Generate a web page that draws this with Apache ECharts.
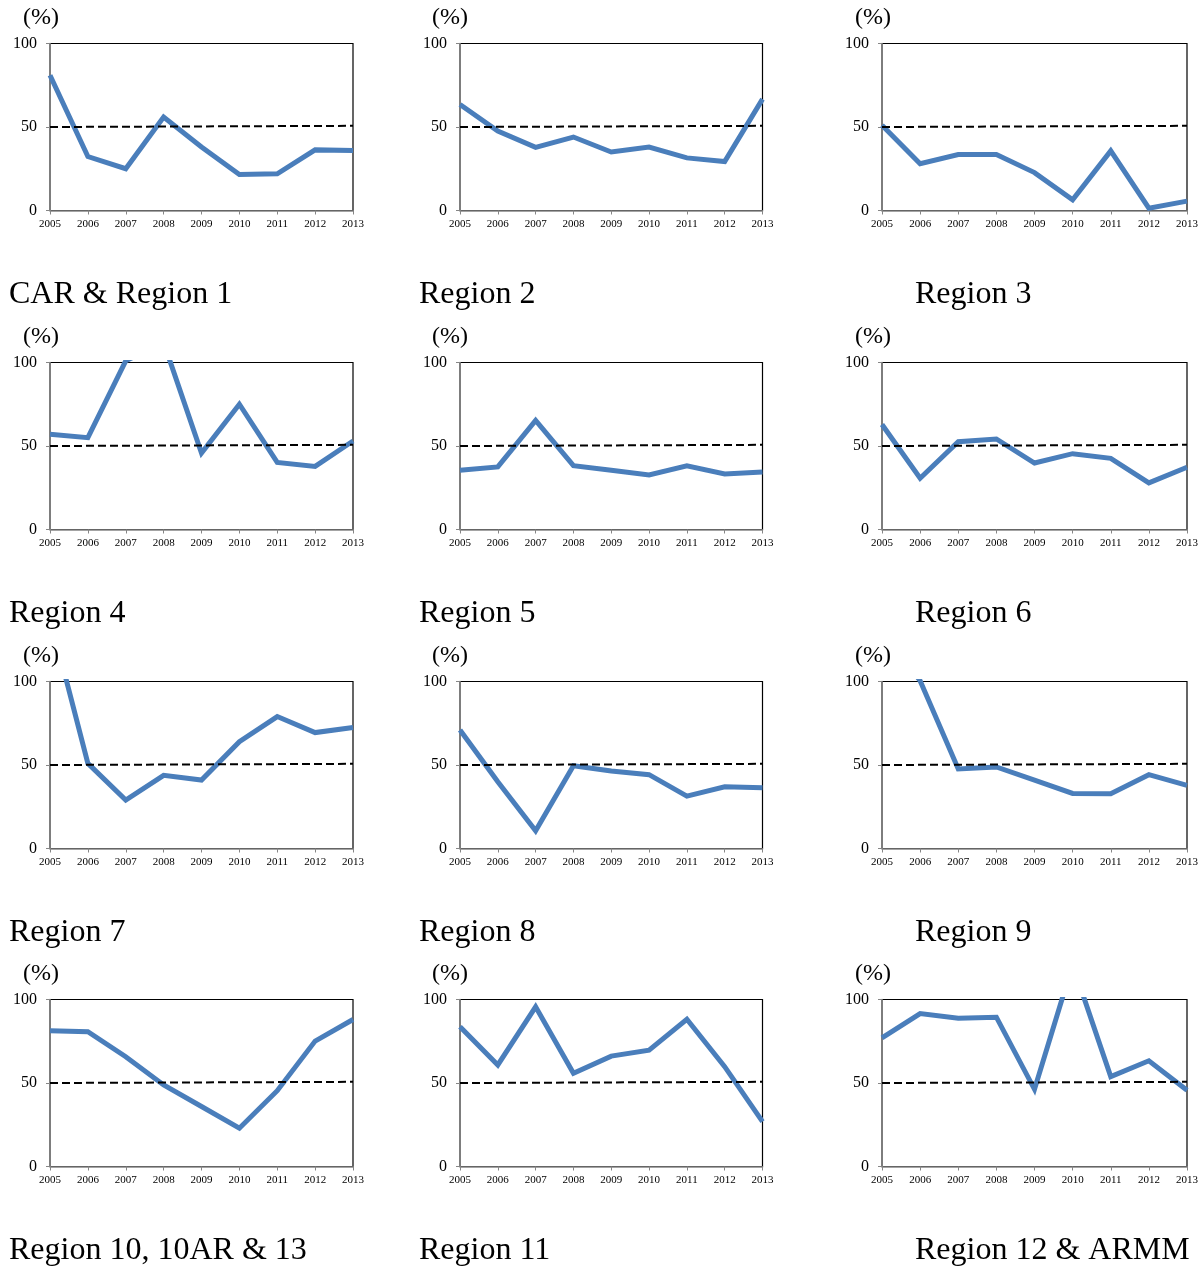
<!DOCTYPE html>
<html>
<head>
<meta charset="utf-8">
<script src="https://cdn.jsdelivr.net/npm/echarts@6/dist/echarts.min.js"></script>
<style>
html,body{margin:0;padding:0;background:#fff;}
#chart{width:1203px;height:1268px;}
</style>
</head>
<body>
<div id="chart"></div>
<script>
// ---- data ----
const years = ['2005','2006','2007','2008','2009','2010','2011','2012','2013'];
const yTicks = [0, 50, 100];
const unitLabel = '(%)';
const regionNames = ['CAR & Region 1','Region 2','Region 3','Region 4','Region 5','Region 6',
  'Region 7','Region 8','Region 9','Region 10, 10AR & 13','Region 11','Region 12 & ARMM'];
const carRegion1   = [81, 32.3, 25, 56, 38, 21.5, 22, 36.3, 36];
const region2      = [63.5, 47.6, 37.8, 44, 35, 38, 31.5, 29.3, 66.7];
const region3      = [51, 28, 33.5, 33.5, 22.7, 6.4, 35.7, 1.4, 5.6];
const region4      = [57, 55, 101, 112, 45.8, 75, 40.2, 37.8, 53];
const region5      = [35.5, 37.5, 65.3, 38.2, 35.5, 32.7, 38.2, 33.3, 34.5];
const region6      = [62.9, 30.7, 52.6, 54.2, 39.8, 45.4, 42.6, 27.9, 37.3];
const region7      = [138.5, 51, 29, 43.8, 41, 64, 79, 69.4, 72.4];
const region8      = [71, 40, 10.6, 49.6, 46.4, 44.2, 31.4, 37, 36.4];
const region9      = [130, 100.5, 47.6, 48.8, 41, 33, 32.8, 44.2, 37.8];
const region10     = [81.3, 80.7, 65.7, 48.8, 35.9, 22.9, 45.4, 75.1, 88];
const region11     = [83.7, 60.8, 95.6, 55.8, 66.1, 69.7, 88.2, 59.8, 26.9];
const region12     = [77, 91.6, 88.8, 89.4, 46.2, 121, 53.8, 63.3, 45.6];
const referenceStart = 50;   // dashed reference line at 2005
const referenceEnd = 50.7;   // dashed reference line at 2013
const allSeries = [carRegion1, region2, region3, region4, region5, region6,
  region7, region8, region9, region10, region11, region12];

// ---- layout ----
const colLeft = [50, 460, 882];
const colWidth = [303, 302.5, 305];
const rowTop = [43.5, 362.5, 681.5, 999.5];
const plotH = 167;
const unitX = [23, 432, 855];
const titleX = [9, 419, 915];
const FONT = '"Liberation Serif", "Times New Roman", serif';

const grids = [], xAxes = [], yAxes = [], series = [], graphics = [];
allSeries.forEach((vals, i) => {
  const r = Math.floor(i / 3), c = i % 3;
  grids.push({
    left: colLeft[c], top: rowTop[r], width: colWidth[c], height: plotH,
    show: true, borderColor: '#000', borderWidth: 1.2, backgroundColor: 'transparent'
  });
  xAxes.push({
    type: 'category', gridIndex: i, data: years, boundaryGap: false,
    axisLine: { lineStyle: { color: '#868686', width: 1.5 } },
    axisTick: { show: true, length: 4, inside: false, lineStyle: { color: '#868686' } },
    axisLabel: { interval: 0, fontFamily: FONT, fontSize: 11, color: '#000', margin: 8 },
    splitLine: { show: false }
  });
  yAxes.push({
    type: 'value', gridIndex: i, min: yTicks[0], max: yTicks[yTicks.length - 1],
    interval: yTicks[1] - yTicks[0],
    axisLine: { show: true, lineStyle: { color: '#868686', width: 1.5 } },
    axisTick: { show: true, length: 4, lineStyle: { color: '#868686' } },
    axisLabel: { fontFamily: FONT, fontSize: 16, color: '#000', margin: 13 },
    splitLine: { show: false }
  });
  series.push({
    type: 'line', xAxisIndex: i, yAxisIndex: i, data: vals,
    symbol: 'none', clip: true, z: 2,
    lineStyle: { color: '#4a7ebb', width: 5, join: 'miter' },
    silent: true, animation: false
  });
  const ref = years.map((y, k) => k === 0 ? referenceStart : (k === years.length - 1 ? referenceEnd : null));
  series.push({
    type: 'line', xAxisIndex: i, yAxisIndex: i, data: ref, connectNulls: true,
    symbol: 'none', z: 3,
    lineStyle: { color: '#000', width: 2, type: [8, 4] },
    silent: true, animation: false
  });
  graphics.push({
    type: 'text', left: unitX[c], top: rowTop[r] - 38,
    style: { text: unitLabel, font: '24px ' + FONT, fill: '#000' }
  });
  graphics.push({
    type: 'text', left: titleX[c], top: rowTop[r] + 235,
    style: { text: regionNames[i], font: '32px ' + FONT, fill: '#000' }
  });
});

const chart = echarts.init(document.getElementById('chart'), null, { renderer: 'canvas' });
chart.setOption({
  animation: false,
  backgroundColor: '#fff',
  grid: grids, xAxis: xAxes, yAxis: yAxes, series: series, graphic: graphics
});
</script>
</body>
</html>
